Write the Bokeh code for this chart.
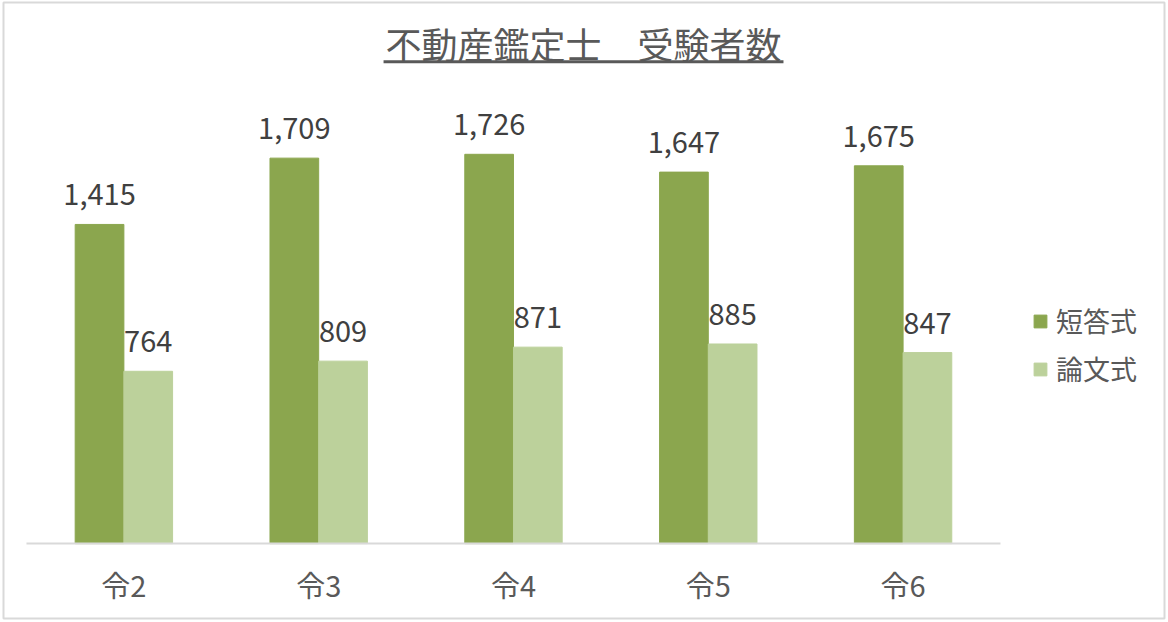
from bokeh.models import ColumnDataSource, Range1d, Legend, LegendItem
from bokeh.plotting import figure
from bokeh.core.properties import value
from bokeh.embed import file_html
from bokeh.resources import INLINE

years = ['令2', '令3', '令4', '令5', '令6']
tanto = [1415, 1709, 1726, 1647, 1675]
ronbun = [764, 809, 871, 885, 847]
title = '不動産鑑定士　受験者数'

font = value('Noto Sans CJK JP')
dark = '#8BA64E'
light = '#BCD19B'

pos = [i + 0.5 for i in range(len(years))]
src = ColumnDataSource(dict(
    year=years, pos=pos,
    x1=[x - 0.125 for x in pos], x2=[x + 0.125 for x in pos],
    tanto=tanto, ronbun=ronbun,
    tanto_txt=[f'{v:,}' for v in tanto],
    ronbun_txt=[f'{v:,}' for v in ronbun],
))

# one category = 194.8 px, 2000 persons = 451 px; frame fills the figure
p = figure(width=1166, height=620, x_range=Range1d(-0.118, 5.842), y_range=Range1d(-332, 2399),
           toolbar_location=None, output_backend='svg',
           min_border_left=3, min_border_right=2, min_border_top=2, min_border_bottom=2)
p.axis.visible = False
p.grid.visible = False
p.outline_line_color = '#d9d9d9'
p.outline_line_width = 2

r1 = p.vbar(x='x1', top='tanto', width=0.25, color=dark, source=src)
r2 = p.vbar(x='x2', top='ronbun', width=0.25, color=light, source=src)

# category axis
p.segment(x0=0, y0=0, x1=len(years), y1=0, line_color='#d9d9d9', line_width=2)
p.text(x='pos', y=0, text='year', source=src, text_align='center', text_baseline='middle',
       y_offset=40, text_font=font, text_font_size='29px', text_color='#595959')

p.text(x='x1', y='tanto', text='tanto_txt', source=src,
       text_align='center', text_baseline='bottom', y_offset=-19,
       text_font=font, text_font_size='29px', text_color='#404040')
p.text(x='x2', y='ronbun', text='ronbun_txt', source=src,
       text_align='center', text_baseline='bottom', y_offset=-19,
       text_font=font, text_font_size='29px', text_color='#404040')

# title with underline
p.text(x=2.859, y=2218, text=[title], text_align='center', text_baseline='middle',
       text_font=font, text_font_size='36px', text_color='#595959')
p.segment(x0=1.833, y0=2136, x1=3.886, y1=2136, line_color='#595959', line_width=3)

leg = Legend(items=[LegendItem(label='短答式', renderers=[r1]),
                    LegendItem(label='論文式', renderers=[r2])],
             location=(1029, 230), glyph_width=16, glyph_height=16, label_standoff=8,
             padding=0, margin=0, spacing=9, label_height=30,
             label_text_font='Noto Sans CJK JP', label_text_font_size='27px',
             label_text_color='#595959', border_line_color=None, background_fill_alpha=0)
p.add_layout(leg)

open("out.html", "w").write(file_html(p, INLINE))
